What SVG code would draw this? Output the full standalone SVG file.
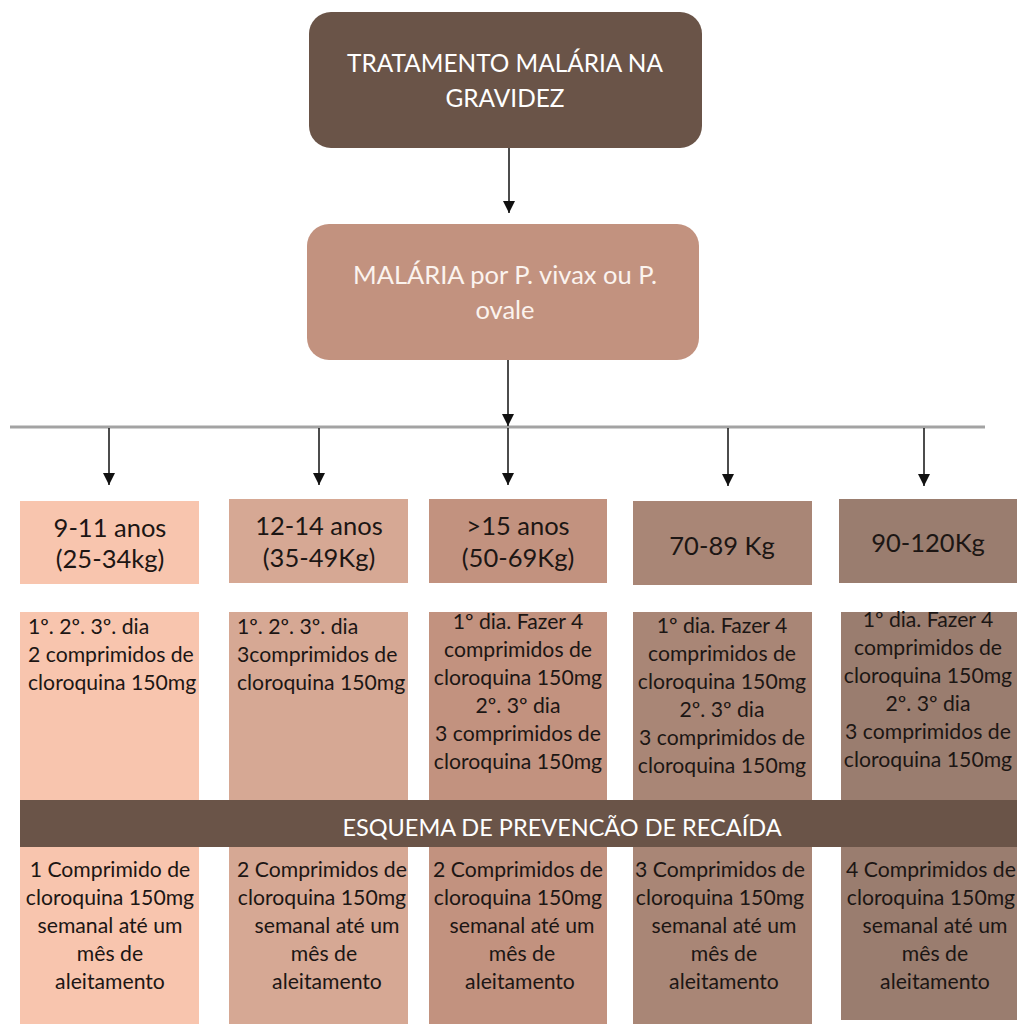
<svg xmlns="http://www.w3.org/2000/svg" width="1027" height="1024" viewBox="0 0 1027 1024">
  <style>
    text { font-family: Lato, "Open Sans", "Liberation Sans", sans-serif; }
    .title { font-size: 24.4px; fill: #ffffff; text-anchor: middle; }
    .sub { font-size: 25.5px; fill: #fbf3ee; text-anchor: middle; }
    .band { font-size: 23.5px; fill: #ffffff; text-anchor: middle; }
    .head { font-size: 25.5px; fill: #1c1614; text-anchor: middle; }
    .body { font-size: 21.2px; fill: #1c1614; }
    .mid { text-anchor: middle; }
    .dark { fill: #6a5448; }
    .c1 { fill: #f8c5ae; }
    .c2 { fill: #d6a894; }
    .c3 { fill: #c2927f; }
    .c4 { fill: #a98676; }
    .c5 { fill: #9a7d6f; }
    .link { stroke: #111111; stroke-width: 1.5; fill: none; }
    .bus { stroke: #a3a3a3; stroke-width: 3; fill: none; }
  </style>
  <defs>
    <marker id="tip" viewBox="0 0 12 12" refX="12" refY="6" markerWidth="12" markerHeight="12" markerUnits="userSpaceOnUse" orient="auto">
      <path d="M0,0 L12,6 L0,12 Z" fill="#111111"/>
    </marker>
  </defs>

  <rect width="1027" height="1024" fill="#ffffff"/>

  <!-- connectors -->
  <g id="connectors">
    <line class="bus" x1="10" y1="427" x2="985" y2="427"/>
    <line class="link" x1="509" y1="148" x2="509" y2="213" marker-end="url(#tip)"/>
    <line class="link" x1="508" y1="360" x2="508" y2="426" marker-end="url(#tip)"/>
    <line class="link" x1="109" y1="428" x2="109" y2="485" marker-end="url(#tip)"/>
    <line class="link" x1="319" y1="428" x2="319" y2="485" marker-end="url(#tip)"/>
    <line class="link" x1="508" y1="428" x2="508" y2="485" marker-end="url(#tip)"/>
    <line class="link" x1="728" y1="428" x2="728" y2="486" marker-end="url(#tip)"/>
    <line class="link" x1="924" y1="428" x2="924" y2="486" marker-end="url(#tip)"/>
  </g>

  <!-- root -->
  <g id="root">
    <rect class="dark" x="309" y="12" width="393" height="136" rx="22"/>
    <text class="title" x="505" y="72">TRATAMENTO MALÁRIA NA</text>
    <text class="title" x="505" y="107">GRAVIDEZ</text>
  </g>

  <!-- species -->
  <g id="species">
    <rect class="c3" x="307" y="224" width="392" height="136" rx="22"/>
    <text class="sub" x="505" y="284">MALÁRIA por P. vivax ou P.</text>
    <text class="sub" x="505" y="319">ovale</text>
  </g>

  <!-- column 1 -->
  <g id="col-9-11">
    <rect class="c1" x="20" y="501" width="179" height="83"/>
    <text class="head" x="110" y="537">9-11 anos</text>
    <text class="head" x="110" y="568">(25-34kg)</text>
    <rect class="c1" x="20" y="612" width="179" height="412"/>
    <text class="body" x="28" y="634">1º. 2º. 3º. dia</text>
    <text class="body" x="28" y="662">2 comprimidos de</text>
    <text class="body" x="28" y="690">cloroquina 150mg</text>
    <text class="body mid" x="110" y="877">1 Comprimido de</text>
    <text class="body mid" x="110" y="905">cloroquina 150mg</text>
    <text class="body mid" x="110" y="933">semanal até um</text>
    <text class="body mid" x="110" y="961">mês de</text>
    <text class="body mid" x="110" y="989">aleitamento</text>
  </g>

  <!-- column 2 -->
  <g id="col-12-14">
    <rect class="c2" x="229" y="499" width="179" height="84"/>
    <text class="head" x="319" y="535">12-14 anos</text>
    <text class="head" x="319" y="567">(35-49Kg)</text>
    <rect class="c2" x="229" y="612" width="179" height="412"/>
    <text class="body" x="237" y="634">1º. 2º. 3º. dia</text>
    <text class="body" x="237" y="662">3comprimidos de</text>
    <text class="body" x="237" y="690">cloroquina 150mg</text>
    <text class="body mid" x="322" y="877">2 Comprimidos de</text>
    <text class="body mid" x="322" y="905">cloroquina 150mg</text>
    <text class="body mid" x="327" y="933">semanal até um</text>
    <text class="body mid" x="324" y="961">mês de</text>
    <text class="body mid" x="327" y="989">aleitamento</text>
  </g>

  <!-- column 3 -->
  <g id="col-15">
    <rect class="c3" x="429" y="499" width="178" height="84"/>
    <text class="head" x="518" y="535">&gt;15 anos</text>
    <text class="head" x="518" y="567">(50-69Kg)</text>
    <rect class="c3" x="429" y="612" width="178" height="412"/>
    <text class="body mid" x="518" y="629">1º dia. Fazer 4</text>
    <text class="body mid" x="518" y="657">comprimidos de</text>
    <text class="body mid" x="518" y="685">cloroquina 150mg</text>
    <text class="body mid" x="518" y="713">2º. 3º dia</text>
    <text class="body mid" x="518" y="741">3 comprimidos de</text>
    <text class="body mid" x="518" y="769">cloroquina 150mg</text>
    <text class="body mid" x="518" y="877">2 Comprimidos de</text>
    <text class="body mid" x="518" y="905">cloroquina 150mg</text>
    <text class="body mid" x="522" y="933">semanal até um</text>
    <text class="body mid" x="522" y="961">mês de</text>
    <text class="body mid" x="520" y="989">aleitamento</text>
  </g>

  <!-- column 4 -->
  <g id="col-70-89">
    <rect class="c4" x="633" y="501" width="179" height="84"/>
    <text class="head" x="722" y="555">70-89 Kg</text>
    <rect class="c4" x="633" y="612" width="179" height="412"/>
    <text class="body mid" x="722" y="633">1º dia. Fazer 4</text>
    <text class="body mid" x="722" y="661">comprimidos de</text>
    <text class="body mid" x="722" y="689">cloroquina 150mg</text>
    <text class="body mid" x="722" y="717">2º. 3º dia</text>
    <text class="body mid" x="722" y="745">3 comprimidos de</text>
    <text class="body mid" x="722" y="773">cloroquina 150mg</text>
    <text class="body mid" x="720" y="877">3 Comprimidos de</text>
    <text class="body mid" x="720" y="905">cloroquina 150mg</text>
    <text class="body mid" x="724" y="933">semanal até um</text>
    <text class="body mid" x="724" y="961">mês de</text>
    <text class="body mid" x="724" y="989">aleitamento</text>
  </g>

  <!-- column 5 -->
  <g id="col-90-120">
    <rect class="c5" x="839" y="499" width="178" height="84"/>
    <text class="head" x="928" y="552">90-120Kg</text>
    <rect class="c5" x="841" y="612" width="176" height="408"/>
    <text class="body mid" x="928" y="627">1º dia. Fazer 4</text>
    <text class="body mid" x="928" y="655">comprimidos de</text>
    <text class="body mid" x="928" y="683">cloroquina 150mg</text>
    <text class="body mid" x="928" y="711">2º. 3º dia</text>
    <text class="body mid" x="928" y="739">3 comprimidos de</text>
    <text class="body mid" x="928" y="767">cloroquina 150mg</text>
    <text class="body mid" x="931" y="877">4 Comprimidos de</text>
    <text class="body mid" x="931" y="905">cloroquina 150mg</text>
    <text class="body mid" x="935" y="933">semanal até um</text>
    <text class="body mid" x="935" y="961">mês de</text>
    <text class="body mid" x="935" y="989">aleitamento</text>
  </g>

  <!-- relapse prevention band -->
  <g id="prevention-band">
    <rect class="dark" x="20" y="800" width="997" height="47"/>
    <text class="band" x="562" y="836">ESQUEMA DE PREVENCÃO DE RECAÍDA</text>
  </g>
</svg>
